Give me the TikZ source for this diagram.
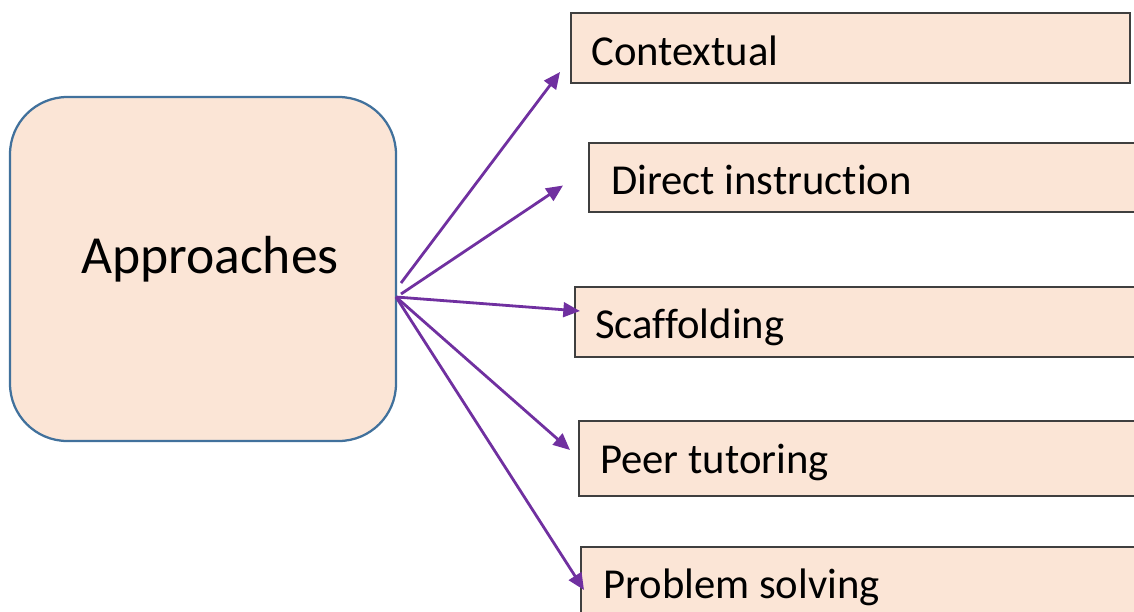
\documentclass[tikz,border=0pt]{standalone}
\usepackage{fontspec}
\setmainfont{Carlito}[Ligatures=NoCommon, RawFeature={-liga;-clig;-calt;-dlig}]
\usetikzlibrary{arrows.meta,calc}
\definecolor{peach}{HTML}{FBE5D6}
\definecolor{steel}{HTML}{41719C}
\definecolor{plum}{HTML}{7030A0}
\definecolor{edgegray}{HTML}{3F3F3F}

\begin{document}
\begin{tikzpicture}[x=0.75pt,y=-0.75pt,
  hubbox/.style={draw=steel, line width=1.7pt, fill=peach, rounded corners=43pt,
    minimum width=289.5pt, minimum height=258pt, anchor=north west,
    inner sep=0pt, outer sep=0pt},
  itembox/.style={draw=edgegray, line width=1.3pt, fill=peach, anchor=north west,
    inner sep=0pt, outer sep=0pt},
  hubtext/.style={anchor=base, inner sep=0pt, font=\fontsize{40.2}{48}\selectfont},
  itemtext/.style={anchor=base west, inner sep=0pt, font=\fontsize{32}{38}\selectfont},
  link/.style={draw=plum, line width=2.1pt, -{Triangle[length=12.5pt,width=11pt]}}]

% canvas
\clip (0,0) rectangle (1134,611);

% central box
\node[hubbox] (app) at (10,97) {};
\node[hubtext] (apptext) at (210,273) {Approaches};

% approach boxes (running off the right edge)
\node[itembox, minimum width=419.25pt, minimum height=52.5pt] (ctx) at (571,13) {};
\node[itemtext] (ctxtext) at ($(ctx.north west)+(20,52)$) {Contextual};

\node[itembox, minimum width=450pt, minimum height=51.75pt] (dir) at (589,143) {};
\node[itemtext] (dirtext) at ($(dir.north west)+(22,51)$) {Direct instruction};

\node[itembox, minimum width=450pt, minimum height=52.5pt] (scf) at (575,287) {};
\node[itemtext] (scftext) at ($(scf.north west)+(20,51)$) {Scaffolding};

\node[itembox, minimum width=450pt, minimum height=56.25pt] (peer) at (579,421) {};
\node[itemtext] (peertext) at ($(peer.north west)+(21,52)$) {Peer tutoring};

\node[itembox, minimum width=450pt, minimum height=54.75pt] (prob) at (581,547) {};
\node[itemtext] (probtext) at ($(prob.north west)+(22,51)$) {Problem solving};

% arrow origins
\coordinate (hub) at ($(app.east)+(0,28)$);
\coordinate (s1) at ($(hub)+(5,-14)$);
\coordinate (s2) at ($(hub)+(5,-3)$);

% arrow tips
\coordinate (e1) at ($(ctx.south west)+(-11,-11)$);
\coordinate (e2) at ($(dir.west)+(-26,8)$);
\coordinate (e3) at ($(scf.west)+(5,-11)$);
\coordinate (e4) at ($(peer.west)+(-9,-8.5)$);
\coordinate (e5) at ($(prob.north west)+(3,43)$);

% connectors
\draw[link] (s1) -- (e1);
\draw[link] (s2) -- (e2);
\draw[link] (hub) -- (e3);
\draw[link] (hub) -- (e4);
\draw[link] (hub) -- (e5);
\end{tikzpicture}
\end{document}
